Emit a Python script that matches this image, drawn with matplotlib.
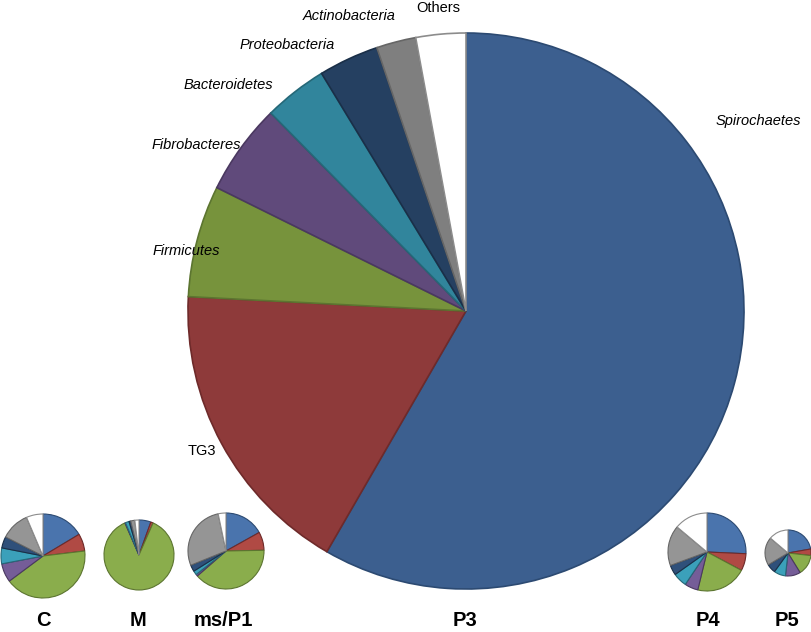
import matplotlib.pyplot as plt

phyla = ['Spirochaetes', 'TG3', 'Firmicutes', 'Fibrobacteres', 'Bacteroidetes',
         'Proteobacteria', 'Actinobacteria', 'Others']

# relative abundance (%) per sample, same order as phyla
p3 = [58.4, 17.5, 6.5, 5.3, 3.7, 3.5, 2.3, 2.9]
c_vals = [16.4, 6.7, 41.7, 7.2, 6.1, 4.4, 11.1, 6.4]
m_vals = [5.5, 1.1, 86.7, 0.3, 1.7, 0.8, 1.9, 1.9]
msp1_vals = [16.9, 7.8, 38.9, 0.8, 1.7, 2.8, 27.8, 3.3]
p4_vals = [25.7, 7.1, 21.0, 5.6, 5.8, 4.2, 16.7, 13.9]
p5_vals = [22.2, 4.6, 14.4, 10.6, 8.2, 6.4, 19.8, 13.8]
samples = ['C', 'M', 'ms/P1', 'P3', 'P4', 'P5']

colors = ['#3c5f8f', '#8e3a3a', '#77933c', '#604a7b', '#31859c', '#254061', '#7f7f7f', '#ffffff']
edges = ['#2c4a72', '#6e2a2a', '#5c7530', '#4a3860', '#256878', '#1a2f48', '#666666', '#8c8c8c']
light = ['#4a74ad', '#b04a44', '#8aad4c', '#755d98', '#3ba0ba', '#2f507a', '#959595', '#ffffff']

W, H = 812, 632
fig = plt.figure(figsize=(8.12, 6.32), dpi=100)
ax = fig.add_axes([0, 0, 1, 1])

# big P3 pie
wedges, _ = ax.pie(p3, colors=colors, startangle=90, counterclock=False,
                   center=(466, H - 311), radius=278, frame=True,
                   wedgeprops=dict(linewidth=1.2))
for w, e in zip(wedges, edges):
    w.set_edgecolor(e)

# small pies for the other samples
small = [(c_vals, 43, 556, 42), (m_vals, 139, 555, 35), (msp1_vals, 226, 551, 38),
         (p4_vals, 707, 552, 39), (p5_vals, 788, 553, 23)]
for vals, cx, cy, r in small:
    ws, _ = ax.pie(vals, colors=light, startangle=90, counterclock=False,
                   center=(cx, H - cy), radius=r, frame=True,
                   wedgeprops=dict(linewidth=0.8))
    for w, e in zip(ws, edges):
        w.set_edgecolor(e)

# phylum labels on big pie
lab_pos = [(716, 121), (188, 451), (153, 251), (152, 145), (184, 85),
           (240, 45), (303, 16), (416, 8)]
for name, (x, y) in zip(phyla, lab_pos):
    style = 'normal' if name in ('TG3', 'Others') else 'italic'
    ax.text(x, H - y, name, fontsize=10.5, style=style, color='#000000',
            ha='left', va='center', family='Liberation Sans')

# sample labels
sx = [43, 138, 223, 465, 708, 787]
for s, x in zip(samples, sx):
    ax.text(x, H - 630, s, fontsize=14.5, fontweight='bold', ha='center', va='bottom',
            family='Liberation Sans')

ax.set_xlim(0, W)
ax.set_ylim(0, H)
ax.set_aspect('auto')
ax.axis('off')

plt.savefig('out.png', dpi=100)
